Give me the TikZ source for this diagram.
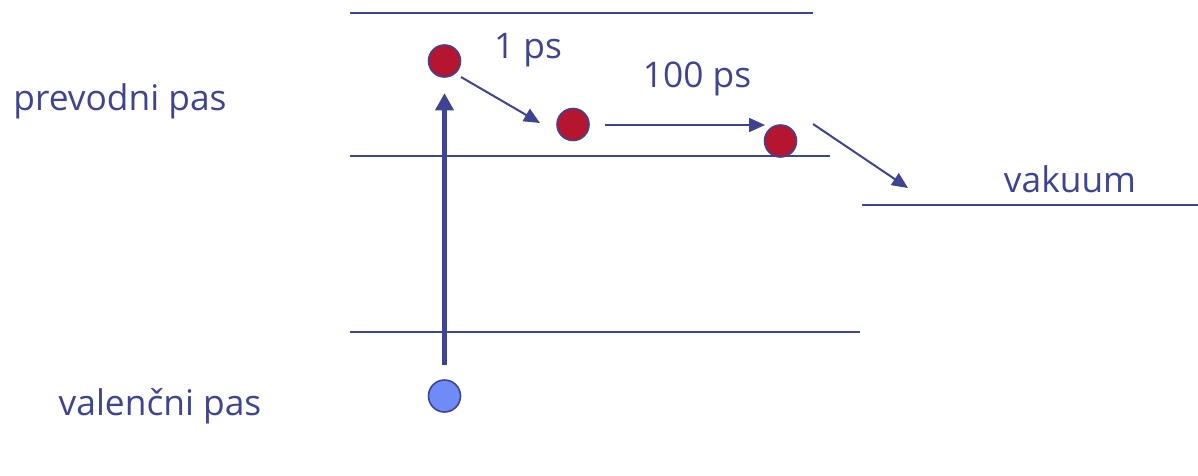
\documentclass[tikz,border=0pt]{standalone}
\usepackage{fontspec}
\setmainfont{Open Sans}
\usetikzlibrary{arrows.meta}
\definecolor{dblue}{HTML}{3F4492}
\definecolor{ered}{HTML}{B5152F}
\definecolor{lblue}{HTML}{6E8BF6}
\begin{document}
\begin{tikzpicture}[x=0.75pt,y=-0.75pt,
  level/.style={draw=dblue,line width=1.5pt},
  electron/.style={circle,draw=dblue,line width=1.2pt,fill=ered,minimum size=24pt,inner sep=0pt},
  hole/.style={circle,draw=dblue,line width=1.2pt,fill=lblue,minimum size=24pt,inner sep=0pt},
  thinarrow/.style={draw=dblue,line width=1.5pt,-{Triangle[length=12pt,width=10.5pt]}},
  thickarrow/.style={draw=dblue,line width=3.8pt,-{Triangle[length=13pt,width=13.5pt]}},
  lbl/.style={text=dblue,font=\fontsize{26.5}{30}\selectfont,inner sep=0pt}]
\useasboundingbox (0,0) rectangle (1198,475);
% levels
\coordinate (t1) at (350,13);  \coordinate (t2) at (813,13);
\coordinate (cb1) at (350,156); \coordinate (cb2) at (830,156);
\coordinate (vb1) at (350,332); \coordinate (vb2) at (860,332);
\coordinate (vk1) at (862,205); \coordinate (vk2) at (1198,205);
\draw[level] (t1) -- (t2);
\draw[level] (cb1) -- (cb2);
\draw[level] (vb1) -- (vb2);
\draw[level] (vk1) -- (vk2);
% particles
\node[electron] (c1) at (444.5,61) {};
\node[electron] (c2) at (573,124.5) {};
\node[electron] (c3) at (780.5,141) {};
\node[hole] (h) at (444.5,396) {};
% excitation arrow
\draw[thickarrow,shorten <=11pt,shorten >=11.5pt] (h) -- (c1);
% relaxation arrows
\coordinate (a1s) at (461,77); \coordinate (a1e) at (540,123);
\coordinate (a2s) at (605,125); \coordinate (a2e) at (765,125);
\coordinate (a3s) at (813,124); \coordinate (a3e) at (908,188);
\draw[thinarrow] (a1s) -- (a1e);
\draw[thinarrow] (a2s) -- (a2e);
\draw[thinarrow] (a3s) -- (a3e);
% labels
\node[lbl] (l1) at (528,50) {1 ps};
\node[lbl] (l2) at (697,79) {100 ps};
\node[lbl] (l3) at (1070,179) {vakuum};
\node[lbl] (l4) at (120,101) {prevodni pas};
\node[lbl] (l5) at (160,406) {valenčni pas};
\end{tikzpicture}
\end{document}
